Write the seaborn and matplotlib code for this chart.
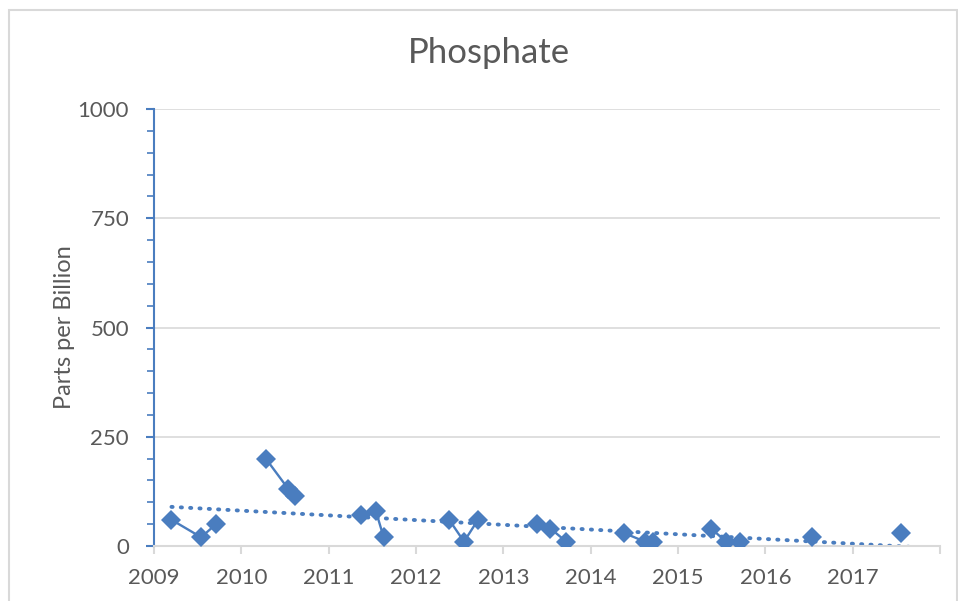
import matplotlib.pyplot as plt
import matplotlib.patches as mpatches
import numpy as np
import pandas as pd
import seaborn as sns

# Phosphate sampling (decimal year, ppb); samples within the same year are joined
dates = [2009.20, 2009.54, 2009.71,
         2010.28, 2010.54, 2010.62,
         2011.37, 2011.54, 2011.63,
         2012.38, 2012.55, 2012.71,
         2013.38, 2013.54, 2013.72,
         2014.38, 2014.62, 2014.71,
         2015.38, 2015.55, 2015.71,
         2016.54,
         2017.55]
ppb = [60, 20, 50,
       200, 130, 115,
       70, 80, 20,
       60, 10, 60,
       50, 40, 10,
       30, 10, 10,
       40, 10, 10,
       20,
       30]
year_ticks = [2009, 2010, 2011, 2012, 2013, 2014, 2015, 2016, 2017, 2018]
year_labels = ["2009", "2010", "2011", "2012", "2013", "2014", "2015", "2016", "2017", ""]
y_ticks = [0, 250, 500, 750, 1000]

df = pd.DataFrame({"date": dates, "ppb": ppb})
df["season"] = df["date"].astype(int)

sns.set_style("white")
plt.rcParams['font.family'] = ['Lato', 'DejaVu Sans']

blue = "#4a7dbf"
text_grey = "#595959"

fig = plt.figure(figsize=(9.58, 6.01), dpi=100)
ax = fig.add_axes([154 / 958, 55 / 601, 786 / 958, 437 / 601])

# chart frame
fig.patches.append(mpatches.Rectangle((9 / 958, -0.05), 948 / 958, 1.05 - 10 / 601,
                                      transform=fig.transFigure, fill=False,
                                      edgecolor="#d9d9d9", linewidth=1.5))

sns.lineplot(data=df, x="date", y="ppb", units="season", estimator=None,
             marker="D", markersize=10.5, markeredgewidth=0, color=blue,
             linewidth=1.7, ax=ax, zorder=3)

# linear trendline
coef = np.polyfit(df["date"], df["ppb"], 1)
tx = np.array([dates[0], 2017.85])
ax.plot(tx, np.polyval(coef, tx), color=blue, linewidth=2.8,
        linestyle=(0, (0.3, 2.1)), dash_capstyle="round", zorder=2)

ax.set_xlim(2009, 2018)
ax.set_ylim(0, 1000)
ax.set_xticks(year_ticks)
ax.set_xticklabels(year_labels)
ax.set_yticks(y_ticks)
ax.set_yticks(np.arange(0, 1001, 50), minor=True)
ax.yaxis.grid(True, color="#d9d9d9", linewidth=1.2)
ax.set_axisbelow(True)

for side in ["top", "right"]:
    ax.spines[side].set_visible(False)
ax.spines["left"].set_color(blue)
ax.spines["left"].set_linewidth(1.5)
ax.spines["bottom"].set_color("#d9d9d9")
ax.spines["bottom"].set_linewidth(1.5)

ax.tick_params(axis="y", which="major", left=True, direction="out", length=6,
               width=1.5, color=blue, labelsize=16, labelcolor=text_grey, pad=12)
ax.tick_params(axis="y", which="minor", left=True, direction="out", length=5,
               width=1.2, color=blue)
ax.tick_params(axis="x", which="major", bottom=True, direction="out", length=6,
               width=1.5, color="#d9d9d9", labelsize=16, labelcolor=text_grey, pad=10)

ax.set_xlabel("")
ax.set_ylabel("Parts per Billion", fontsize=17, color=text_grey, labelpad=2)

fig.text(489 / 958, 1 - 53 / 601, "Phosphate", ha="center", va="center",
         fontsize=25, color=text_grey)

fig.savefig("out.png", dpi=100)
